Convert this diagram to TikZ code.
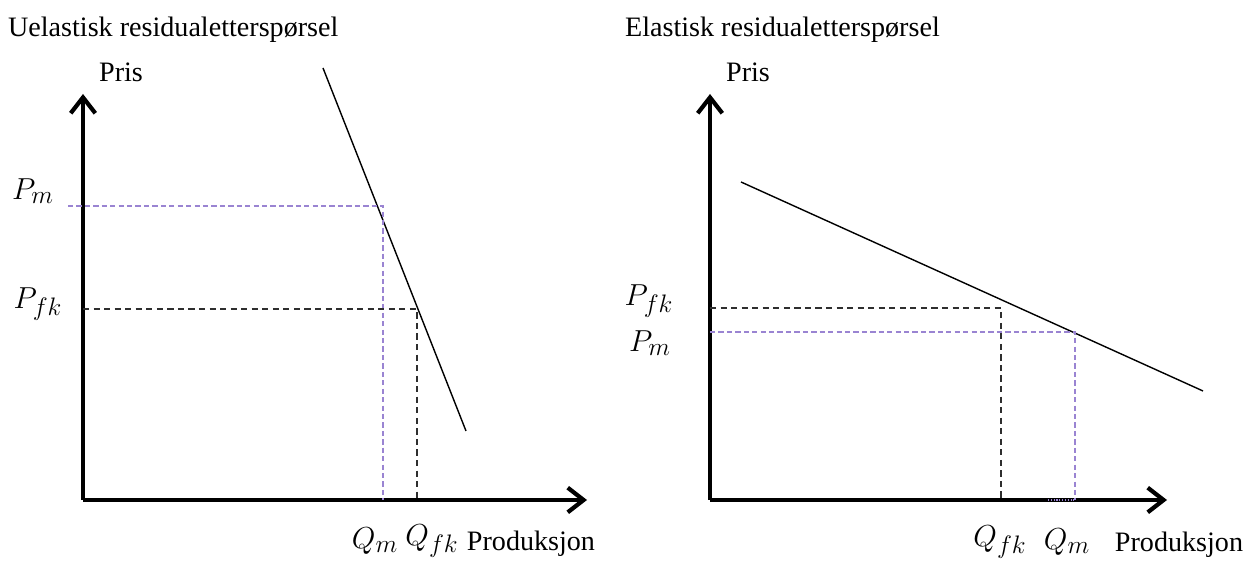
\documentclass[tikz,border=0pt]{standalone}
\usepackage{fontspec}
\setmainfont{Liberation Serif}
\usetikzlibrary{arrows.meta, positioning, calc}
\definecolor{monopurple}{HTML}{9A84D2}
\definecolor{fkdark}{HTML}{2E2E2E}

\begin{document}
\begin{tikzpicture}[
  axisarr/.style={-{Straight Barb[length=9pt, width=14pt, line width=2.4pt]}, line width=1.8pt},
  demand/.style={line width=0.8pt, black},
  mline/.style={monopurple, line width=0.6pt, dash pattern=on 3pt off 1.8pt},
  fkline/.style={fkdark, line width=0.6pt, dash pattern=on 3.5pt off 2.5pt},
  lbl/.style={font=\fontsize{16}{18}\selectfont, inner sep=1pt},
  mlbl/.style={font=\fontsize{19}{21}\selectfont, inner sep=1pt},
  title/.style={lbl, anchor=west}
]
  \useasboundingbox (0,0) rectangle (25.06,11.24);

  % Left panel: inelastic residual demand
  \node[title] (titleL) at (0.12,10.64) {Uelastisk residualetterspørsel};
  \coordinate (OL) at (1.66,1.24);
  \coordinate (yL) at (1.66,9.36);
  \coordinate (xL) at (11.74,1.24);
  \draw[axisarr] (OL) -- (yL);
  \draw[axisarr] (OL) -- (xL);
  \node[lbl] (prisL) at (2.42,9.8) {Pris};
  \node[lbl] (prodL) at (10.62,0.36) {Produksjon};

  \coordinate (dL1) at (6.46,9.88);
  \coordinate (dL2) at (9.32,2.62);
  \draw[demand] (dL1) -- (dL2);

  \coordinate (mL) at (7.66,7.12);
  \coordinate (fkL) at (8.34,5.06);
  \draw[mline] (1.36,7.12) -- (mL) -- (mL |- OL);
  \draw[fkline] (OL |- fkL) -- (fkL) -- (fkL |- OL);

  \node[mlbl] (PmL) at (0.66,7.42) {$P_m$};
  \node[mlbl] (PfkL) at (0.76,5.16) {$P_{fk}$};
  \node[mlbl] (QmL) at (7.5,0.42) {$Q_m$};
  \node[mlbl] (QfkL) at (8.64,0.42) {$Q_{fk}$};

  % Right panel: elastic residual demand
  \node[title] (titleR) at (12.46,10.64) {Elastisk residualetterspørsel};
  \coordinate (OR) at (14.2,1.24);
  \coordinate (yR) at (14.2,9.36);
  \coordinate (xR) at (23.34,1.24);
  \draw[axisarr] (OR) -- (yR);
  \draw[axisarr] (OR) -- (xR);
  \node[lbl] (prisR) at (14.96,9.8) {Pris};
  \node[lbl] (prodR) at (23.58,0.34) {Produksjon};

  \coordinate (dR1) at (14.82,7.6);
  \coordinate (dR2) at (24.06,3.42);
  \draw[demand] (dR1) -- (dR2);

  \coordinate (fkR) at (20.02,5.08);
  \coordinate (mR) at (21.5,4.6);
  \draw[fkline] (OR |- fkR) -- (fkR) -- (fkR |- OR);
  \draw[mline] (OR |- mR) -- (mR) -- (mR |- OR);
  \draw[mline, densely dotted] (20.96,1.24) -- (mR |- OR);

  \node[mlbl] (PfkR) at (12.98,5.22) {$P_{fk}$};
  \node[mlbl] (PmR) at (13.0,4.38) {$P_m$};
  \node[mlbl] (QfkR) at (20.0,0.4) {$Q_{fk}$};
  \node[mlbl] (QmR) at (21.34,0.4) {$Q_m$};
\end{tikzpicture}
\end{document}
